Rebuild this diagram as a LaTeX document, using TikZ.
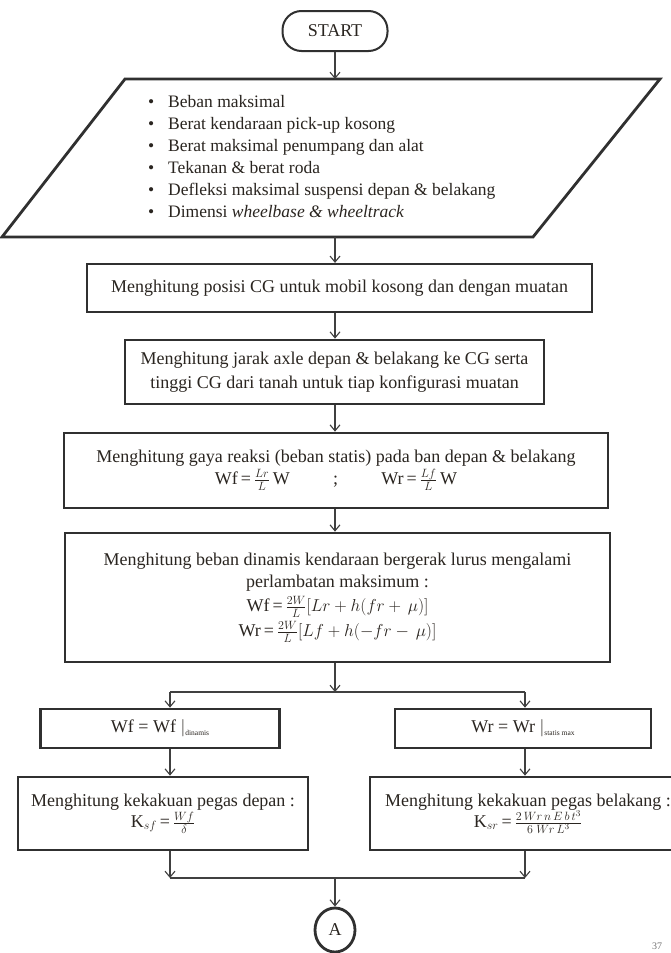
\documentclass[tikz,border=0pt]{standalone}
\usepackage{fontspec}
\setmainfont{Liberation Serif}
\usetikzlibrary{arrows.meta,shapes.geometric,calc}
\definecolor{linec}{HTML}{303030}
\definecolor{arrc}{HTML}{404040}
\definecolor{textc}{HTML}{2A2520}
\newcommand\fsmain{\fontsize{18}{24}\selectfont}
\newcommand\fslist{\fontsize{17.5}{22}\selectfont}
\newcommand\tinysub[1]{\raisebox{-3pt}{\fontsize{7.5}{8}\selectfont #1}}
\begin{document}
\begin{tikzpicture}[x=1pt,y=-1pt,
  box/.style={draw=linec, line width=2.7pt, rectangle, inner sep=0pt, align=center, font=\fsmain, text=textc},
  arr/.style={draw=arrc, line width=1.1pt, -{Straight Barb[length=6pt,width=10pt,line width=1.1pt]}},
  ln/.style={draw=arrc, line width=1.1pt}]
\useasboundingbox (0,0) rectangle (671,953);
\fill[white] (0,0) rectangle (671,953);

% START terminal
\node[draw=linec, line width=2pt, rounded corners=19pt, minimum width=105pt, minimum height=40pt,
      inner sep=0pt, font=\fsmain, text=textc] (start) at (335,31) {START};

% input parallelogram
\coordinate (ptl) at (125,79);
\coordinate (ptr) at (660,79);
\coordinate (pbr) at (533,237);
\coordinate (pbl) at (2,237);
\draw[draw=linec, line width=2.8pt, line join=miter] (ptl) -- (ptr) -- (pbr) -- (pbl) -- cycle;
\coordinate (ptop) at (335,79);
\coordinate (pbot) at (335,237);
\node[anchor=north west, inner sep=0pt, align=left, font=\fslist, text=textc] (plist) at (148,95)
 {\makebox[20pt][l]{\textbullet}Beban maksimal\\
  \makebox[20pt][l]{\textbullet}Berat kendaraan pick-up kosong\\
  \makebox[20pt][l]{\textbullet}Berat maksimal penumpang dan alat\\
  \makebox[20pt][l]{\textbullet}Tekanan \& berat roda\\
  \makebox[20pt][l]{\textbullet}Defleksi maksimal suspensi depan \& belakang\\
  \makebox[20pt][l]{\textbullet}Dimensi \textit{wheelbase \& wheeltrack}};

% process boxes
\node[box, line width=2.2pt, minimum width=505pt, minimum height=48pt] (b1) at (339.5,288)
 {Menghitung posisi CG untuk mobil kosong dan dengan muatan};
\node[box, minimum width=419pt, minimum height=64pt] (b2) at (334.5,372)
 {Menghitung jarak axle depan \& belakang ke CG serta\\tinggi CG dari tanah untuk tiap konfigurasi muatan};
\node[box, minimum width=544pt, minimum height=75pt] (b3) at (336,470.5)
 {Menghitung gaya reaksi (beban statis) pada ban depan \& belakang\\[-2pt]
  Wf\,=\,$\frac{Lr}{L}$\,W\hspace{2.4em};\hspace{2.4em}Wr\,=\,$\frac{Lf}{L}$\,W};
\node[box, minimum width=545pt, minimum height=129pt] (b4) at (337.5,597.5)
 {Menghitung beban dinamis kendaraan bergerak lurus mengalami\\[-2pt]
  perlambatan maksimum :\\
  Wf\,=\,$\frac{2W}{L}[Lr+h(fr+\,\mu)]$\\[1pt]
  Wr\,=\,$\frac{2W}{L}[Lf+h(-fr-\,\mu)]$};

% branch
\coordinate (brc) at (335,692);
\coordinate (brl) at (170,692);
\coordinate (brr) at (525,692);
\node[box, minimum width=239pt, minimum height=39pt] (b5l) at (160,728.5)
 {Wf = Wf $\vert$\tinysub{dinamis}};
\node[box, minimum width=256pt, minimum height=39pt] (b5r) at (523,728.5)
 {Wr = Wr $\vert$\tinysub{statis max}};
\node[box, minimum width=290pt, minimum height=73pt] (b6l) at (163,813.5)
 {Menghitung kekakuan pegas depan :\\[-3pt]
  K$_{sf}$\,=\,$\frac{Wf}{\delta}$};
\node[box, minimum width=316pt, minimum height=73pt] (b6r) at (528,813.5)
 {Menghitung kekakuan pegas belakang :\\[-3pt]
  K$_{sr}$\,=\,$\frac{2\,Wr\,n\,E\,b\,t^3}{6\;Wr\,L^3}$};

% join
\coordinate (jnl) at (170,878);
\coordinate (jnr) at (525,878);
\coordinate (jnc) at (335,878);
\node[draw=linec, line width=2.8pt, ellipse, minimum width=40pt, minimum height=44pt, inner sep=0pt,
      font=\fsmain, text=textc] (conA) at (335,930) {A};

% connectors
\draw[arr] (start.south) -- (ptop);
\draw[arr] (pbot) -- (b1.north -| pbot);
\draw[arr] (b1.south -| pbot) -- (b2.north -| pbot);
\draw[arr] (b2.south -| pbot) -- (b3.north -| pbot);
\draw[arr] (b3.south -| pbot) -- (b4.north -| pbot);
\draw[arr] (b4.south -| brc) -- (brc);
\draw[ln] (brl) -- (brr);
\draw[arr] (brl) -- (b5l.north -| brl);
\draw[arr] (brr) -- (b5r.north -| brr);
\draw[arr] (b5l.south -| brl) -- (b6l.north -| brl);
\draw[arr] (b5r.south -| brr) -- (b6r.north -| brr);
\draw[arr] (b6l.south -| jnl) -- (jnl);
\draw[arr] (b6r.south -| jnr) -- (jnr);
\draw[ln] (jnl) -- (jnr);
\draw[arr] (jnc) -- (conA.north);

% page number
\node[font=\fontsize{10}{11}\selectfont, text=black!55, inner sep=0pt] (pgno) at (657,946) {37};
\end{tikzpicture}
\end{document}
